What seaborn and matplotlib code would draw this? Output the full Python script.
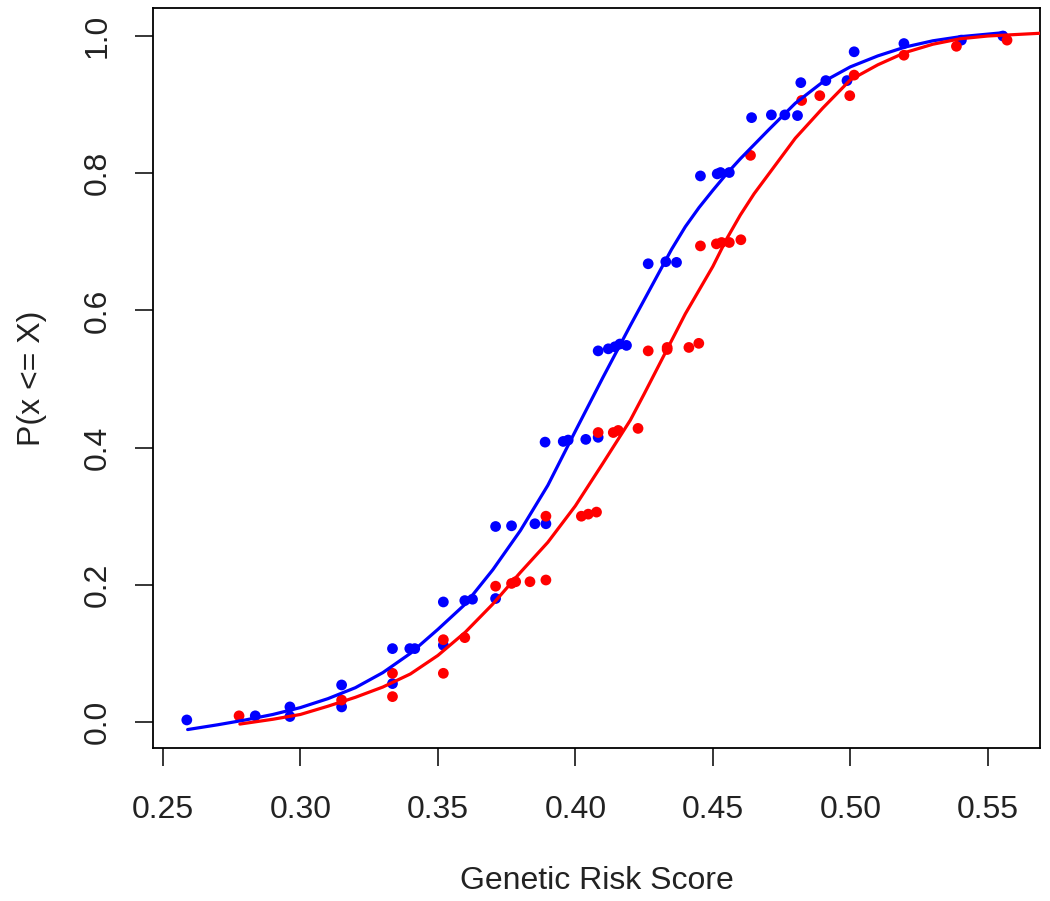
import matplotlib
matplotlib.use("Agg")
import matplotlib.pyplot as plt
import pandas as pd
import seaborn as sns

blue_x = [0.2587, 0.2836, 0.2962, 0.2962, 0.315, 0.315, 0.3335, 0.3335, 0.3398, 0.3416,
          0.352, 0.352, 0.3598, 0.3626, 0.371, 0.371, 0.3768, 0.3853, 0.3893, 0.389,
          0.3956, 0.3974, 0.4038, 0.4083, 0.4083, 0.412, 0.4144, 0.4162, 0.4186, 0.4265,
          0.4329, 0.4368, 0.4455, 0.4516, 0.4528, 0.456, 0.4641, 0.4713, 0.4762, 0.4808,
          0.482, 0.4911, 0.4988, 0.5014, 0.5195, 0.5404, 0.5555]
blue_y = [0.003, 0.009, 0.022, 0.008, 0.054, 0.022, 0.107, 0.056, 0.107, 0.107,
          0.175, 0.112, 0.177, 0.179, 0.180, 0.285, 0.286, 0.289, 0.289, 0.408,
          0.409, 0.411, 0.412, 0.415, 0.541, 0.544, 0.547, 0.551, 0.549, 0.668,
          0.671, 0.670, 0.796, 0.799, 0.801, 0.801, 0.881, 0.885, 0.885, 0.884,
          0.932, 0.935, 0.935, 0.977, 0.989, 0.994, 1.000]

red_x = [0.2777, 0.315, 0.3335, 0.3335, 0.352, 0.352, 0.3598, 0.371, 0.3768, 0.3783,
         0.3835, 0.3893, 0.3893, 0.4022, 0.4047, 0.4077, 0.4083, 0.4138, 0.4156, 0.4228,
         0.4265, 0.4334, 0.4334, 0.4413, 0.4449, 0.4455, 0.4513, 0.4532, 0.456, 0.4602,
         0.4637, 0.4823, 0.4889, 0.4998, 0.5014, 0.5195, 0.5386, 0.557]
red_y = [0.009, 0.032, 0.071, 0.037, 0.120, 0.071, 0.123, 0.198, 0.202, 0.2045,
         0.2045, 0.207, 0.300, 0.300, 0.303, 0.306, 0.422, 0.422, 0.425, 0.428,
         0.541, 0.543, 0.546, 0.546, 0.552, 0.694, 0.697, 0.699, 0.699, 0.703,
         0.826, 0.906, 0.913, 0.913, 0.943, 0.972, 0.985, 0.994]

# fitted curves
blue_curve_x = [0.259, 0.27, 0.28, 0.29, 0.30, 0.31, 0.32, 0.33, 0.34, 0.35, 0.36, 0.37,
                0.38, 0.39, 0.40, 0.41, 0.42, 0.43, 0.435, 0.44, 0.445, 0.45, 0.455,
                0.46, 0.47, 0.48, 0.49, 0.50, 0.51, 0.52, 0.53, 0.54, 0.556]
blue_curve_y = [-0.011, -0.004, 0.003, 0.011, 0.021, 0.034, 0.050, 0.072, 0.100, 0.135,
                0.172, 0.222, 0.279, 0.345, 0.424, 0.502, 0.578, 0.652, 0.689, 0.722,
                0.750, 0.775, 0.799, 0.821, 0.862, 0.902, 0.933, 0.955, 0.971, 0.984,
                0.993, 0.999, 1.005]
red_curve_x = [0.278, 0.29, 0.30, 0.31, 0.32, 0.33, 0.34, 0.35, 0.36, 0.37, 0.38, 0.39,
               0.40, 0.41, 0.42, 0.425, 0.43, 0.44, 0.45, 0.455, 0.46, 0.465, 0.47,
               0.48, 0.49, 0.50, 0.51, 0.52, 0.53, 0.54, 0.55, 0.569]
red_curve_y = [-0.003, 0.004, 0.011, 0.023, 0.036, 0.051, 0.070, 0.097, 0.131, 0.172,
               0.218, 0.262, 0.315, 0.377, 0.440, 0.478, 0.517, 0.595, 0.664, 0.704,
               0.739, 0.770, 0.797, 0.851, 0.895, 0.936, 0.958, 0.976, 0.988, 0.996,
               1.000, 1.004]

x_ticks = [0.25, 0.30, 0.35, 0.40, 0.45, 0.50, 0.55]
y_ticks = [0.0, 0.2, 0.4, 0.6, 0.8, 1.0]

pts = pd.concat([
    pd.DataFrame({"x": blue_x, "y": blue_y, "grp": "blue"}),
    pd.DataFrame({"x": red_x, "y": red_y, "grp": "red"}),
])
curves = pd.concat([
    pd.DataFrame({"x": blue_curve_x, "y": blue_curve_y, "grp": "blue"}),
    pd.DataFrame({"x": red_curve_x, "y": red_curve_y, "grp": "red"}),
])
pal = {"blue": "#0000ff", "red": "#ff0000"}

sns.set_style("white")
plt.rcParams["font.family"] = ["Liberation Sans", "DejaVu Sans"]

fig = plt.figure(figsize=(10.5, 9.01), dpi=100)
ax = fig.add_axes([0.1457, 0.1698, 0.8448, 0.8213])

sns.scatterplot(data=pts, x="x", y="y", hue="grp", palette=pal, s=60,
                linewidth=0, legend=False, ax=ax, zorder=3)
sns.lineplot(data=curves, x="x", y="y", hue="grp", palette=pal, sort=False,
             estimator=None, linewidth=2.3, legend=False, ax=ax, zorder=4)

ax.set_xlim(0.2464, 0.569)
ax.set_ylim(-0.0379, 1.0408)
ax.set_xticks(x_ticks)
ax.set_xticklabels([f"{v:.2f}" for v in x_ticks])
ax.set_yticks(y_ticks)
ax.set_yticklabels([f"{v:.1f}" for v in y_ticks], rotation=90, va="center")

ax.tick_params(axis="both", direction="out", length=13, width=1.1, color="black",
               labelsize=23, labelcolor="#222222")
ax.tick_params(axis="x", pad=21, bottom=True)
ax.tick_params(axis="y", pad=16, left=True)

for s in ax.spines.values():
    s.set_color("black")
    s.set_linewidth(1.3)

ax.set_xlabel("Genetic Risk Score", fontsize=23, color="#222222", labelpad=29)
ax.set_ylabel("P(x <= X)", fontsize=23, color="#222222", labelpad=26)

fig.savefig("out.png", dpi=100)
